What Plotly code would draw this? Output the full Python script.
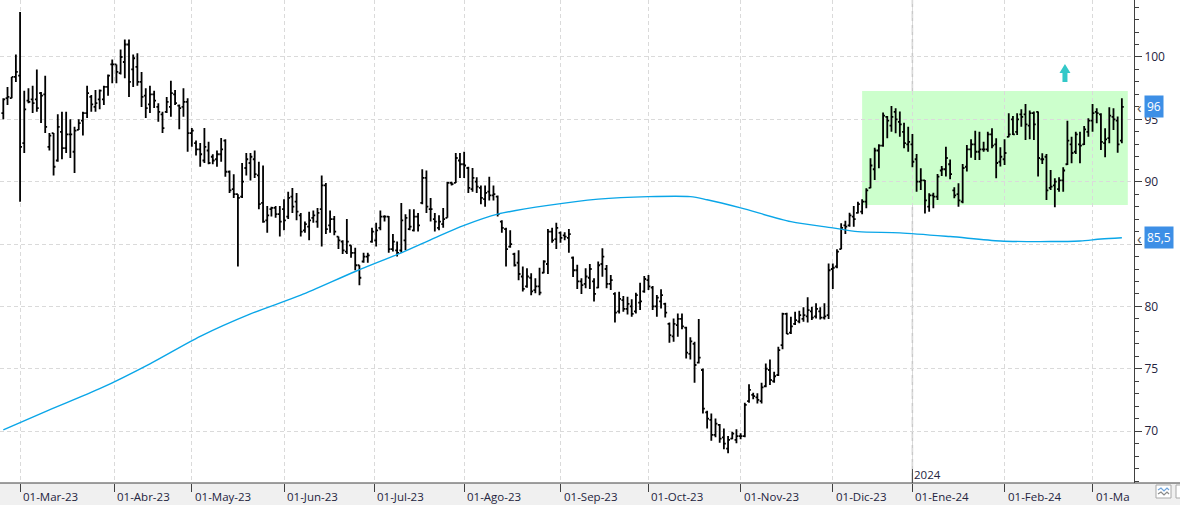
import pandas as pd
import plotly.graph_objects as go

# ---------------- data ----------------
holidays = ["2023-04-07", "2023-04-10", "2023-05-01", "2023-12-25", "2023-12-26", "2024-01-01"]
dates = pd.bdate_range("2023-02-23", "2024-03-12", freq="C", holidays=holidays)

opens = [
    95.5, 96.7, 96.7, 98.4, 98.5, 93.1, 96.5, 96.6, 96.6, 97.1,
    97.0, 92.8, 93.9, 91.7, 94.0, 92.7, 93.8, 92.4, 94.15, 94.9,
    95.5, 96.8, 96.0, 96.6, 96.6, 97.6, 99.4, 99.4, 98.7, 99.6,
    101.0, 99.0, 99.2, 98.0, 96.9, 96.2, 97.0, 96.0, 95.4, 95.6,
    96.0, 97.0, 96.1, 96.0, 96.4, 93.9, 93.1, 92.6, 91.7, 92.5,
    92.0, 91.8, 92.2, 93.3, 90.8, 89.4, 89.0, 88.8, 91.1, 91.5,
    91.8, 90.5, 88.3, 86.9, 87.8, 87.9, 87.4, 87.8, 87.2, 88.8,
    88.4, 87.3, 86.1, 86.4, 87.1, 86.8, 87.8, 89.7, 86.5, 87.0,
    85.6, 85.2, 84.4, 84.9, 84.3, 83.3, 83.6, 84.0, 85.2, 85.3,
    86.3, 87.2, 87.2, 84.6, 84.5, 84.5, 85.3, 86.2, 86.1, 87.2,
    88.3, 90.3, 87.8, 87.0, 86.3, 86.6, 87.1, 89.9, 89.9, 91.7,
    91.4, 91.1, 89.4, 90.0, 89.5, 88.6, 89.2, 88.9, 88.8, 86.8,
    86.2, 84.8, 84.2, 83.5, 82.4, 81.6, 82.3, 81.3, 81.6, 82.7,
    83.4, 86.0, 85.4, 85.9, 85.7, 85.5, 83.9, 82.9, 82.0, 81.8,
    82.3, 82.0, 81.5, 83.4, 83.0, 81.8, 81.0, 79.6, 80.5, 79.8,
    80.0, 79.6, 80.3, 81.2, 82.1, 81.5, 80.0, 80.4, 80.2, 78.6,
    77.6, 78.5, 79.0, 78.3, 76.2, 77.0, 75.5, 74.9, 71.5, 70.9,
    69.7, 70.5, 69.5, 68.6, 69.4, 69.3, 69.6, 69.6, 72.4, 72.9,
    72.7, 72.4, 73.6, 74.9, 74.0, 74.5, 76.9, 79.4, 77.9, 78.6,
    78.8, 79.0, 79.2, 79.6, 79.2, 79.6, 79.1, 79.3, 83.0, 83.2,
    84.6, 86.5, 86.5, 87.2, 87.5, 87.6, 88.4, 89.5, 91.0, 92.5,
    92.9, 95.2, 94.5, 95.6, 94.8, 94.0, 93.0, 93.0, 91.8, 90.0,
    90.1, 88.0, 88.9, 88.8, 90.9, 91.0, 91.4, 89.3, 89.0, 88.4,
    91.2, 92.6, 93.0, 92.4, 92.6, 92.6, 93.8, 93.0, 91.6, 91.8,
    93.6, 95.0, 94.0, 95.4, 95.4, 94.5, 95.5, 95.6, 91.8, 92.0,
    89.5, 89.7, 89.4, 90.1, 91.4, 93.0, 92.4, 93.0, 93.0, 94.0,
    94.9, 95.6, 95.4, 93.1, 93.5, 95.2, 94.9, 93.3,
]

highs = [
    96.7, 97.6, 98.4, 100.2, 103.6, 97.3, 97.5, 97.7, 99.0, 97.2,
    98.5, 93.9, 93.9, 95.4, 95.6, 95.6, 95.0, 94.4, 95.0, 95.6,
    97.7, 96.95, 97.35, 97.4, 97.7, 98.6, 99.8, 99.4, 100.6, 101.4,
    101.4, 100.2, 100.3, 98.8, 97.5, 97.7, 97.3, 96.3, 95.6, 96.8,
    98.1, 97.35, 96.2, 97.5, 96.7, 94.3, 93.3, 93.1, 94.3, 93.2,
    92.2, 92.5, 93.5, 93.4, 90.9, 90.6, 89.0, 91.5, 92.3, 92.3,
    92.5, 91.6, 91.3, 88.05, 88.0, 88.05, 88.05, 88.6, 89.2, 89.5,
    89.1, 87.5, 86.8, 87.6, 87.7, 87.9, 90.5, 89.9, 87.7, 87.25,
    85.6, 85.3, 87.0, 84.9, 84.7, 83.3, 84.3, 84.3, 86.3, 86.7,
    87.7, 87.3, 87.25, 85.8, 85.2, 88.3, 87.4, 87.8, 87.8, 87.5,
    91.0, 90.9, 88.7, 87.5, 87.3, 87.9, 90.0, 90.0, 92.3, 92.3,
    92.4, 91.2, 91.1, 90.35, 89.7, 89.7, 90.4, 89.7, 88.9, 86.9,
    86.3, 86.1, 84.3, 84.5, 83.2, 83.05, 82.65, 82.25, 83.1, 83.7,
    86.2, 86.3, 86.7, 86.0, 85.95, 86.2, 84.0, 83.35, 82.25, 83.05,
    83.4, 82.25, 83.6, 84.66, 83.32, 82.52, 81.13, 81.18, 80.83, 80.78,
    80.57, 81.1, 81.9, 82.44, 82.52, 81.64, 80.91, 81.37, 80.3, 78.7,
    79.04, 79.44, 79.44, 78.37, 77.52, 77.17, 78.99, 75.03, 71.64, 71.42,
    71.02, 70.57, 70.22, 69.61, 69.95, 70.14, 69.82, 72.28, 73.75, 73.08,
    73.03, 73.88, 75.43, 75.75, 74.77, 76.77, 79.5, 79.5, 79.18, 79.58,
    79.66, 79.93, 80.73, 79.98, 80.25, 79.93, 80.25, 83.45, 83.45, 84.58,
    86.66, 86.87, 87.52, 88.05, 88.4, 88.6, 89.47, 91.88, 92.73, 93.0,
    95.54, 95.27, 96.07, 95.88, 95.62, 94.73, 94.41, 93.83, 92.22, 91.07,
    90.14, 89.07, 89.12, 90.62, 91.26, 92.81, 91.79, 89.55, 89.87, 91.42,
    92.94, 93.4, 94.09, 94.01, 93.21, 94.01, 94.28, 93.48, 92.76, 93.4,
    95.48, 95.27, 95.48, 95.8, 96.23, 95.7, 95.62, 95.62, 92.28, 92.22,
    90.94, 90.27, 90.35, 91.15, 94.89, 93.61, 94.01, 94.01, 94.47, 95.08,
    96.23, 95.88, 95.48, 94.28, 95.96, 95.88, 95.22, 96.69,
]

lows = [
    95.0, 96.15, 96.7, 98.0, 88.4, 92.3, 96.3, 95.5, 95.6, 94.7,
    93.9, 92.5, 90.5, 91.6, 91.8, 92.3, 91.9, 90.7, 94.15, 93.7,
    95.1, 95.6, 95.6, 95.8, 96.15, 96.9, 97.9, 97.9, 98.6, 98.3,
    96.8, 97.6, 97.7, 96.0, 95.1, 95.5, 95.9, 94.8, 93.9, 95.5,
    95.2, 96.15, 94.2, 95.2, 92.4, 92.8, 92.1, 91.2, 91.5, 91.4,
    91.4, 91.2, 91.6, 90.4, 89.1, 88.7, 83.2, 88.7, 90.5, 90.1,
    90.3, 87.8, 86.7, 85.9, 87.2, 87.1, 85.6, 86.1, 87.0, 87.5,
    86.9, 85.6, 85.9, 85.3, 86.7, 86.3, 84.8, 85.8, 85.9, 85.7,
    84.6, 84.2, 84.2, 83.9, 82.9, 81.7, 83.5, 83.5, 85.1, 84.8,
    86.1, 86.8, 84.3, 84.4, 84.0, 84.3, 84.5, 86.1, 86.0, 86.0,
    88.2, 87.5, 86.8, 86.0, 86.1, 86.3, 87.1, 89.7, 89.9, 90.3,
    90.3, 89.1, 89.2, 89.1, 88.2, 88.0, 88.5, 88.5, 87.2, 85.9,
    83.2, 84.7, 83.2, 82.1, 81.2, 81.5, 80.9, 81.05, 80.9, 82.65,
    82.6, 85.1, 84.6, 85.1, 85.3, 84.3, 82.35, 81.4, 81.0, 81.45,
    81.4, 80.4, 81.45, 82.38, 81.45, 81.31, 78.7, 79.44, 79.58, 79.36,
    79.18, 79.44, 79.71, 81.1, 81.31, 79.71, 79.18, 79.84, 79.12, 77.09,
    77.17, 77.57, 78.16, 75.83, 75.75, 73.88, 75.43, 71.42, 70.22, 69.23,
    69.5, 69.07, 68.54, 68.22, 69.34, 69.02, 69.34, 69.5, 72.28, 72.55,
    72.22, 72.22, 73.51, 73.7, 73.88, 74.42, 76.56, 77.79, 77.79, 78.51,
    78.64, 78.77, 78.7, 78.91, 79.04, 78.96, 78.96, 79.0, 81.4, 83.05,
    84.58, 85.81, 86.39, 86.39, 87.46, 87.4, 87.87, 89.47, 90.14, 91.07,
    92.81, 93.48, 94.01, 93.88, 93.61, 92.68, 92.41, 91.15, 89.2, 89.34,
    87.46, 87.6, 87.87, 88.53, 90.46, 90.41, 90.19, 88.67, 88.0, 88.27,
    90.81, 91.93, 91.74, 91.74, 92.41, 92.41, 92.68, 90.27, 91.21, 91.34,
    93.56, 93.75, 93.75, 94.41, 93.34, 93.4, 93.34, 90.41, 91.42, 88.53,
    89.34, 87.95, 89.2, 89.2, 91.34, 91.47, 92.22, 91.47, 92.94, 93.61,
    94.01, 94.68, 92.54, 91.96, 93.08, 94.15, 92.33, 93.08,
]

closes = [
    96.6, 96.8, 98.4, 98.8, 92.8, 95.8, 96.4, 96.3, 95.9, 96.9,
    94.4, 93.7, 91.2, 94.4, 92.7, 93.8, 93.8, 94.1, 94.7, 95.5,
    97.1, 96.2, 96.3, 97.3, 97.6, 98.5, 99.4, 98.8, 100.0, 101.0,
    98.0, 99.9, 98.0, 96.8, 95.9, 97.0, 96.5, 95.6, 94.3, 96.4,
    97.1, 96.3, 95.9, 96.4, 93.9, 94.1, 92.6, 92.2, 92.8, 91.5,
    91.7, 92.2, 92.6, 90.8, 89.3, 89.0, 88.7, 90.0, 91.8, 92.0,
    90.6, 88.2, 86.8, 87.3, 87.9, 87.4, 86.8, 86.9, 88.7, 88.0,
    87.6, 86.0, 86.6, 86.9, 87.3, 87.5, 89.7, 86.2, 87.0, 86.0,
    85.3, 84.5, 85.2, 84.3, 83.3, 82.3, 84.0, 84.1, 86.0, 86.1,
    87.2, 87.2, 84.6, 85.2, 84.3, 86.9, 87.1, 86.4, 87.2, 86.5,
    90.3, 88.0, 87.8, 86.8, 86.8, 87.0, 89.9, 89.8, 91.9, 91.4,
    91.3, 89.5, 90.3, 89.6, 88.7, 89.1, 88.9, 89.0, 87.4, 86.3,
    84.6, 85.0, 83.3, 82.6, 81.4, 82.4, 81.2, 81.6, 81.1, 83.6,
    86.0, 85.3, 86.3, 85.5, 85.6, 85.8, 82.9, 82.0, 81.7, 82.4,
    83.0, 81.0, 83.3, 84.0, 81.8, 82.1, 79.5, 80.6, 79.8, 80.2,
    79.4, 80.9, 80.4, 82.2, 81.6, 80.0, 80.7, 80.9, 79.5, 77.7,
    78.6, 79.0, 78.4, 76.3, 77.2, 75.3, 75.9, 71.8, 71.0, 69.7,
    70.6, 69.4, 69.0, 69.3, 69.8, 69.6, 69.6, 72.1, 73.3, 72.8,
    72.5, 73.5, 75.0, 74.1, 74.4, 76.5, 79.4, 77.8, 78.4, 78.9,
    79.3, 79.3, 79.7, 79.1, 79.8, 79.1, 79.2, 82.9, 83.1, 84.4,
    86.3, 86.4, 87.3, 87.0, 88.2, 88.4, 89.3, 91.3, 92.5, 92.9,
    95.3, 94.9, 95.2, 95.0, 94.6, 93.1, 93.2, 91.6, 90.0, 90.1,
    88.5, 88.9, 88.8, 90.4, 91.0, 91.9, 90.6, 88.9, 88.5, 91.1,
    92.6, 93.0, 92.4, 92.6, 92.6, 93.8, 92.9, 91.5, 92.0, 92.3,
    93.8, 93.8, 95.0, 95.2, 94.6, 95.5, 94.6, 91.9, 91.8, 89.3,
    89.6, 90.0, 90.1, 90.9, 93.3, 92.3, 93.8, 92.9, 94.2, 94.9,
    95.5, 95.5, 93.2, 93.4, 95.3, 95.0, 93.0, 96.0,
]

# 200-session moving average, read at selected sessions (index into dates)
ma_idx = [0, 11, 23, 35, 47, 59, 71, 84, 95, 103, 110, 118, 130, 142, 154,
          164, 168, 176, 188, 198, 204, 214, 226, 238, 250, 257, 262, 267]
ma_values = [70.1, 71.7, 73.4, 75.4, 77.6, 79.4, 80.9, 82.8, 84.3, 85.5, 86.5, 87.4, 88.1, 88.6, 88.8,
             88.8, 88.55, 87.9, 86.8, 86.3, 86.0, 85.9, 85.6, 85.25, 85.2, 85.25, 85.4, 85.5]

month_ticks = ["2023-03-01", "2023-03-31 12:00", "2023-05-02", "2023-06-01", "2023-06-30 12:00",
               "2023-08-01", "2023-09-01", "2023-10-02", "2023-11-01", "2023-12-01",
               "2024-01-02", "2024-02-01", "2024-03-01"]
month_labels = ["01-Mar-23", "01-Abr-23", "01-May-23", "01-Jun-23", "01-Jul-23",
                "01-Ago-23", "01-Sep-23", "01-Oct-23", "01-Nov-23", "01-Dic-23",
                "01-Ene-24", "01-Feb-24", "01-Ma"]

range_box = dict(start=205, end="2024-03-13 10:00", low=88.13, high=97.27)
arrow_pos = dict(x="2024-02-21 10:00", y=99.44)
x_range = ["2023-02-22 05:00", "2024-03-14 21:30"]
y_range = [65.84, 104.57]

# ---------------- layout helpers ----------------
W, H = 1180, 505
MR, MB = 46, 22
PW, PH = W - MR, H - MB


def pxx(p):
    return p / PW


def pxy(p):
    return (PH - p) / PH


x = [d.strftime("%Y-%m-%d") for d in dates]
FONT = "Open Sans"
TXT = "#24243e"
AX = "#404040"
GRID = "#dadada"

fig = go.Figure()
fig.add_trace(go.Ohlc(
    x=x, open=opens, high=highs, low=lows, close=closes,
    increasing=dict(line=dict(color="#000000", width=1.8)),
    decreasing=dict(line=dict(color="#000000", width=1.8)),
    tickwidth=0.45, hoverinfo="skip", showlegend=False,
))
fig.add_trace(go.Scatter(
    x=[x[i] for i in ma_idx], y=ma_values, mode="lines",
    line=dict(color="#0aa6e8", width=1.4, shape="spline", smoothing=0.8),
    hoverinfo="skip", showlegend=False,
))

shapes = [
    dict(type="rect", xref="x", yref="y", x0=x[range_box["start"]], x1=range_box["end"],
         y0=range_box["low"], y1=range_box["high"], fillcolor="#ccffcc", line=dict(width=0), layer="below"),
    dict(type="line", xref="x", yref="paper", x0=x[217], x1=x[217], y0=0, y1=1,
         line=dict(color="#c9c9c9", width=1.5, dash="10px,4px"), layer="below"),
    dict(type="rect", xref="paper", yref="paper", x0=0, x1=pxx(W), y0=pxy(H), y1=0,
         fillcolor="#f0f0f0", line=dict(width=0), layer="below"),
    dict(type="line", xref="paper", yref="paper", x0=0, x1=pxx(W), y0=0, y1=0,
         line=dict(color=AX, width=1)),
    dict(type="line", xref="x", yref="paper", x0=x[217], x1=x[217], y0=0, y1=pxy(469),
         line=dict(color=AX, width=1)),
    dict(type="path", xref="x", yref="y", xsizemode="pixel", ysizemode="pixel",
         xanchor=arrow_pos["x"], yanchor=arrow_pos["y"],
         path="M0,0 L-5.5,-9 L-2.5,-9 L-2.5,-18 L2.5,-18 L2.5,-9 L5.5,-9 Z",
         fillcolor="#33c8c8", line=dict(width=0)),
    dict(type="rect", xref="paper", yref="paper", x0=pxx(1156), x1=pxx(1171), y0=pxy(498), y1=pxy(485),
         fillcolor="#ffffff", line=dict(color="#a8a8a8", width=1)),
    dict(type="path", xref="paper", yref="paper",
         path=f"M{pxx(1158)},{pxy(490)} L{pxx(1161)},{pxy(488)} L{pxx(1164)},{pxy(491)} L{pxx(1167)},{pxy(488)} L{pxx(1169)},{pxy(490)}",
         line=dict(color="#6fa4dc", width=1.2)),
    dict(type="path", xref="paper", yref="paper",
         path=f"M{pxx(1158)},{pxy(494)} L{pxx(1161)},{pxy(492)} L{pxx(1164)},{pxy(495)} L{pxx(1167)},{pxy(492)} L{pxx(1169)},{pxy(494)}",
         line=dict(color="#8a8a8a", width=1.2)),
    dict(type="rect", xref="paper", yref="paper", x0=pxx(1176), x1=pxx(1190), y0=pxy(498), y1=pxy(485),
         fillcolor="#ffffff", line=dict(color="#a8a8a8", width=1)),
]

annotations = []
for tv, lab in zip(month_ticks, month_labels):
    annotations.append(dict(x=tv, xref="x", y=pxy(496), yref="paper", text=lab, showarrow=False,
                            xanchor="left", yanchor="middle", xshift=1,
                            font=dict(family=FONT, size=11.5, color=TXT)))
annotations.append(dict(x=x[217], xref="x", y=pxy(474), yref="paper", text="2024", showarrow=False,
                        xanchor="left", yanchor="middle", xshift=0,
                        font=dict(family=FONT, size=11.5, color=TXT)))

last_close = closes[-1]
last_ma = ma_values[-1]
for val, txt in [(last_close, f"{last_close:g}"), (last_ma, f"{last_ma:.1f}".replace(".", ","))]:
    annotations.append(dict(x=pxx(1144), xref="paper", y=val, yref="y", text=txt, showarrow=False,
                            xanchor="left", yanchor="middle", bgcolor="#3d8fe6", borderpad=2,
                            font=dict(family=FONT, size=12, color="#ffffff")))
    annotations.append(dict(x=pxx(1139), xref="paper", y=val, yref="y", text="‹", showarrow=False,
                            xanchor="center", yanchor="middle",
                            font=dict(family=FONT, size=15, color="#505050")))

fig.update_layout(
    width=W, height=H,
    margin=dict(l=0, r=MR, t=0, b=MB, pad=0),
    paper_bgcolor="#ffffff", plot_bgcolor="#ffffff",
    showlegend=False, hovermode=False,
    separators=",.",
    font=dict(family=FONT, size=12, color=TXT),
    xaxis=dict(
        type="date", range=x_range,
        rangebreaks=[dict(bounds=["sat", "mon"]), dict(values=holidays)],
        rangeslider=dict(visible=False),
        tickmode="array", tickvals=month_ticks, showticklabels=False,
        ticks="outside", ticklen=8, tickcolor=AX, tickwidth=1,
        showgrid=True, gridcolor=GRID, griddash="4px,3px", gridwidth=1,
        showline=False, zeroline=False, fixedrange=True,
    ),
    yaxis=dict(
        side="right", range=y_range,
        tick0=0, dtick=5, ticks="outside", ticklen=7, tickcolor=AX, tickwidth=1,
        minor=dict(dtick=1, ticks="outside", ticklen=4, tickcolor=AX, tickwidth=1, showgrid=False),
        showline=True, linecolor=AX, linewidth=1,
        showgrid=True, gridcolor=GRID, griddash="4px,3px", gridwidth=1,
        zeroline=False, fixedrange=True,
        tickfont=dict(family=FONT, size=12, color=TXT),
    ),
    shapes=shapes,
    annotations=annotations,
)

fig.write_html("out.html")
